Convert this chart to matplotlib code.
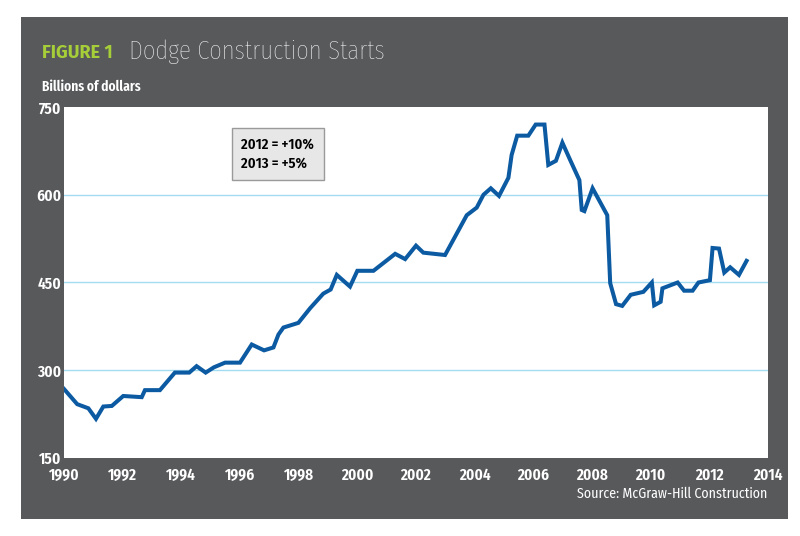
import matplotlib.pyplot as plt
from matplotlib.patches import Rectangle

# Dodge construction starts, billions of dollars
years = [
    1990.0, 1990.45, 1990.83, 1991.09, 1991.34, 1991.63, 1992.02, 1992.65,
    1992.76, 1993.27, 1993.78, 1994.27, 1994.52, 1994.83, 1995.11, 1995.49,
    1996.0, 1996.40, 1996.82, 1997.14, 1997.31, 1997.48, 1997.99, 1998.39,
    1998.84, 1999.09, 1999.30, 1999.75, 2000.0, 2000.55, 2001.29, 2001.63,
    2002.0, 2002.25, 2002.99, 2003.73, 2004.07, 2004.30, 2004.55, 2004.83,
    2005.15, 2005.26, 2005.45, 2005.83, 2006.08, 2006.38, 2006.51, 2006.77,
    2006.99, 2007.25, 2007.57, 2007.65, 2007.74, 2008.02, 2008.27, 2008.52,
    2008.62, 2008.82, 2009.03, 2009.32, 2009.75, 2010.04, 2010.12, 2010.34,
    2010.40, 2010.92, 2011.14, 2011.43, 2011.63, 2012.02, 2012.11, 2012.33,
    2012.51, 2012.71, 2013.01, 2013.27,
]
starts = [
    268, 242, 235, 217, 238, 239, 256, 254,
    266, 266, 296, 296, 307, 296, 305, 313,
    313, 344, 334, 339, 361, 373, 381, 406,
    431, 438, 463, 443, 470, 470, 499, 490,
    513, 501, 497, 565, 578, 600, 611, 598,
    629, 668, 701, 701, 720, 720, 651, 658,
    689, 660, 625, 574, 572, 611, 588, 565,
    449, 413, 410, 429, 434, 450, 411, 417,
    440, 450, 436, 436, 450, 454, 509, 508,
    467, 476, 463, 487,
]

x_ticks = list(range(1990, 2015, 2))
y_ticks = [150, 300, 450, 600, 750]
grid_levels = [300, 450, 600]

BG = "#58595b"
LINE = "#0b5aa2"
GRID = "#a3dcf0"
GREEN = "#a6ce39"

COND = ["Fira Sans Condensed", "Roboto Condensed", "DejaVu Sans"]
XCOND = ["Fira Sans Extra Condensed", "Fira Sans Condensed", "DejaVu Sans"]
WIDE = ["Fira Sans", "Open Sans", "DejaVu Sans"]
plt.rcParams["font.family"] = COND

fig = plt.figure(figsize=(8, 5.36), dpi=100)
fig.patch.set_facecolor("white")
fig.patches.append(Rectangle((21 / 800, 1 - 519 / 536), 767 / 800, 502 / 536,
                             transform=fig.transFigure, facecolor=BG,
                             edgecolor="none", zorder=-10))

ax = fig.add_axes([64 / 800, 1 - 458 / 536, 704 / 800, 351 / 536])
ax.set_zorder(1)
ax.set_facecolor("white")
for s in ax.spines.values():
    s.set_visible(False)

for g in grid_levels:
    ax.axhline(g, color=GRID, linewidth=1.0, zorder=1)

ax.plot(years, starts, color=LINE, linewidth=2.9, solid_joinstyle="miter", zorder=3)

ax.set_xlim(1990, 2014)
ax.set_ylim(150, 750)
ax.set_xticks(x_ticks)
ax.set_yticks(y_ticks)
ax.tick_params(length=0, colors="white")
ax.tick_params(axis="x", pad=7)
ax.tick_params(axis="y", pad=2)
for lab in ax.get_xticklabels() + ax.get_yticklabels():
    lab.set_family(XCOND)
    lab.set_fontsize(12)
    lab.set_fontweight("semibold")

ax.text(1996.05, 669, "2012 = +10%\n2013 = +5%", fontsize=10.5, color="black",
        fontweight="semibold", ha="left", va="center", linespacing=1.4,
        bbox=dict(boxstyle="square,pad=0.65", facecolor="#e7e7e8", edgecolor="#9a9a9a",
                  linewidth=1.0), zorder=4)

fig.text(42 / 800, 1 - 53 / 536, "FIGURE 1", color=GREEN, fontsize=13,
         fontweight="bold", family=WIDE, ha="left", va="center")
fig.text(129 / 800, 1 - 52 / 536, "Dodge Construction Starts", color="white",
         fontsize=19.5, fontweight="light", family=XCOND, ha="left", va="center")
fig.text(42 / 800, 1 - 87 / 536, "Billions of dollars", color="white", fontsize=10.5,
         fontweight="semibold", family=XCOND, ha="left", va="center")
fig.text(767 / 800, 1 - 494 / 536, "Source: McGraw-Hill Construction", color="white",
         fontsize=10, ha="right", va="center")

fig.savefig("out.png", dpi=100, facecolor=fig.get_facecolor())
